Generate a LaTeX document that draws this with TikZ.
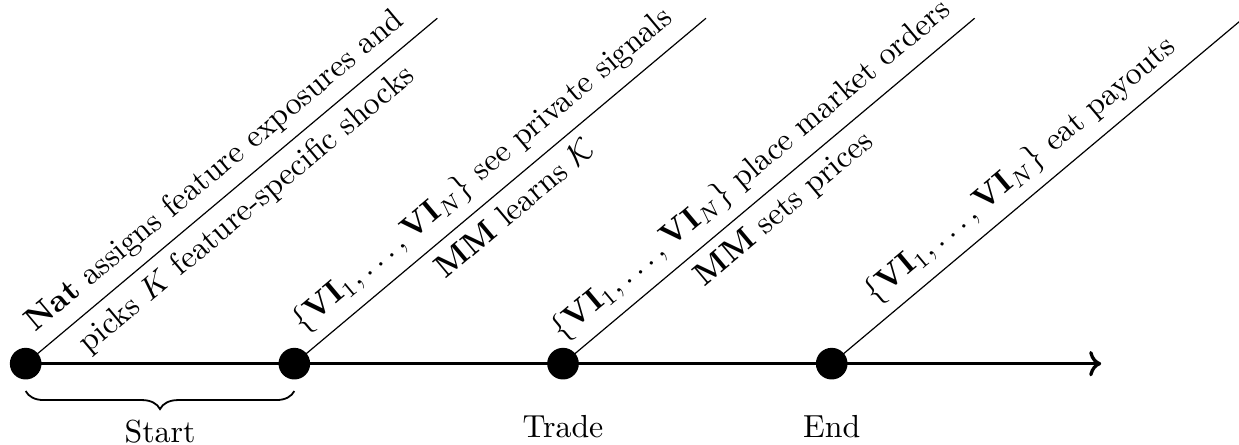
\RequirePackage{fix-cm}
\documentclass[tikz,border=0pt]{standalone}
\usetikzlibrary{positioning,arrows.meta,decorations.pathreplacing}
\usepackage{amsmath,amssymb}

\begin{document}
\begin{tikzpicture}[
    font=\fontsize{10.6}{12.7}\selectfont,
    evdot/.style={circle,fill=black,inner sep=0pt,minimum size=0.37cm},
    slant/.style={midway,sloped}
  ]
    \useasboundingbox (-0.30cm,-0.94cm) rectangle (14.18cm,4.25cm);
    % events on the timeline
    \foreach \n/\x in {1/0,2/3.14,3/6.28,4/9.42}
      {\node[evdot] (e\n) at (\x cm,0) {};}
    \coordinate (tend) at (12.57cm,0);
    \draw[line width=1.1pt,->] (e1.center) -- (tend);
    % slanted lines, what happens at each event
    \foreach \n in {1,...,4}
      {\coordinate (top\n) at ([shift={(40:6.28cm)}]e\n.center);}
    \draw (e1.center) -- (top1)
      node[slant,above] {\textbf{Nat} assigns feature exposures and}
      node[slant,below] {picks $K$ feature-specific shocks};
    \draw (e2.center) -- (top2)
      node[slant,above] {$\{\mathbf{VI}_1,\ldots,\mathbf{VI}_N\}$ see private signals}
      node[slant,below] {\textbf{MM} learns $\mathcal{K}$};
    \draw (e3.center) -- (top3)
      node[slant,above] {$\{\mathbf{VI}_1,\ldots,\mathbf{VI}_N\}$ place market orders}
      node[slant,below] {\textbf{MM} sets prices};
    \draw (e4.center) -- (top4)
      node[slant,above] {$\{\mathbf{VI}_1,\ldots,\mathbf{VI}_N\}$ eat payouts};
    % phases
    \draw[semithick,decorate,decoration={brace,mirror,amplitude=6pt}]
      ([yshift=-0.32cm]e1.center) -- ([yshift=-0.32cm]e2.center)
      node[midway,below=6pt] (start) {Start};
    \node[below=0.29cm of e3] (trade) {Trade};
    \node[below=0.29cm of e4] (finish) {End};
  \end{tikzpicture}
\end{document}
